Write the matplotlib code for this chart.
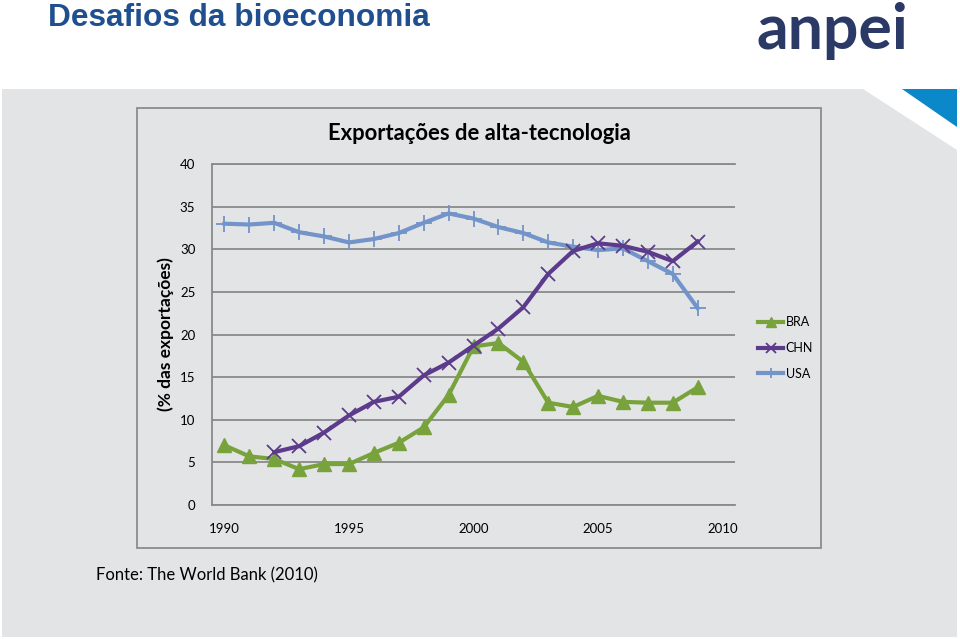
import matplotlib
matplotlib.use("Agg")
import matplotlib.pyplot as plt
from matplotlib.patches import Polygon, Rectangle

# high-tech exports, % of manufactured exports
years = list(range(1990, 2010))
bra = [7.0, 5.7, 5.4, 4.2, 4.8, 4.8, 6.1, 7.3, 9.1, 12.9,
       18.6, 19.0, 16.8, 12.0, 11.5, 12.8, 12.1, 12.0, 12.0, 13.8]
chn_years = list(range(1992, 2010))
chn = [6.2, 6.9, 8.5, 10.5, 12.1, 12.7, 15.2, 16.7, 18.7, 20.7,
       23.2, 27.1, 29.8, 30.7, 30.4, 29.7, 28.6, 30.9]
usa = [33.0, 32.9, 33.1, 32.0, 31.5, 30.8, 31.2, 31.9, 33.1, 34.2,
       33.6, 32.6, 31.9, 30.8, 30.3, 29.9, 30.1, 28.6, 27.1, 23.1]
xticks = [1990, 1995, 2000, 2005, 2010]
yticks = [0, 5, 10, 15, 20, 25, 30, 35, 40]

W, H = 960, 639
BG = "#e3e4e6"
GRID = "#8a8a8a"
FONT = ["Lato", "DejaVu Sans"]


def fx(x):
    return x / W


def fy(y):
    return 1 - y / H


fig = plt.figure(figsize=(W / 100, H / 100), dpi=100)
fig.patch.set_facecolor("white")

# grey slide panel with the cut top-right corner
panel = [(2, 89), (863, 89), (957, 150), (957, 637), (2, 637)]
fig.patches.append(Polygon([(fx(a), fy(b)) for a, b in panel], closed=True,
                           transform=fig.transFigure, facecolor=BG,
                           edgecolor="none", zorder=-3))
tri = [(902, 89), (957, 89), (957, 127)]
fig.patches.append(Polygon([(fx(a), fy(b)) for a, b in tri], closed=True,
                           transform=fig.transFigure, facecolor="#0a88c9",
                           edgecolor="none", zorder=-2))
# chart area border
fig.patches.append(Rectangle((fx(137), fy(548)), fx(821) - fx(137), fy(108) - fy(548),
                             transform=fig.transFigure, facecolor="none",
                             edgecolor="#8c8c8c", linewidth=1.3, zorder=-2))

fig.text(fx(48), fy(26), "Desafios da bioeconomia", family=["Liberation Sans", "DejaVu Sans"],
         fontsize=22.8, fontweight="bold", color="#1f4f8f", va="baseline", ha="left")
fig.text(fx(756), fy(31), "anpei", family=FONT, fontsize=45, fontweight="bold",
         color="#2b3966", va="center", ha="left")

ax = fig.add_axes([fx(212), fy(505), fx(735) - fx(212), fy(164) - fy(505)])
ax.set_facecolor("none")

ax.plot(years, bra, color="#78a23c", lw=3, marker="^", ms=10, label="BRA", zorder=3)
ax.plot(chn_years, chn, color="#5c3a8c", lw=3, marker="x", ms=10, mew=1.3, label="CHN", zorder=4)
ax.plot(years, usa, color="#7294c9", lw=3, marker="+", ms=11, mew=1.3, label="USA", zorder=3)

ax.set_xlim(1989.5, 2010.5)
ax.set_ylim(0, 40)
ax.set_xticks(xticks)
ax.set_yticks(yticks)
ax.tick_params(length=0, labelsize=9.5, colors="black")
ax.tick_params(axis="x", pad=13)
ax.tick_params(axis="y", pad=12)
for lab in ax.get_xticklabels() + ax.get_yticklabels():
    lab.set_family(FONT)
ax.grid(axis="y", color=GRID, lw=1.3)
ax.set_axisbelow(True)
for s in ["left", "bottom", "top"]:
    ax.spines[s].set_color(GRID)
    ax.spines[s].set_linewidth(1.3)
ax.spines["right"].set_visible(False)

fig.text(fx(479), fy(133), "Exportações de alta-tecnologia", family=FONT, fontsize=15.8,
         fontweight="bold", ha="center", va="center")
fig.text(fx(166), fy(334), "(% das exportações)", family=FONT, fontsize=12.5,
         fontweight="bold", rotation=90, ha="center", va="center")
fig.text(fx(96), fy(575), "Fonte: The World Bank (2010)", family=FONT, fontsize=12,
         ha="left", va="center")

fig.legend(handles=ax.get_lines(), loc="center left", bbox_to_anchor=(fx(747), fy(348)),
           frameon=False, prop={"family": FONT, "size": 9}, handlelength=2.0,
           handletextpad=0.2, labelspacing=1.1, markerscale=0.7)

fig.savefig("out.png", dpi=100, facecolor="white")
